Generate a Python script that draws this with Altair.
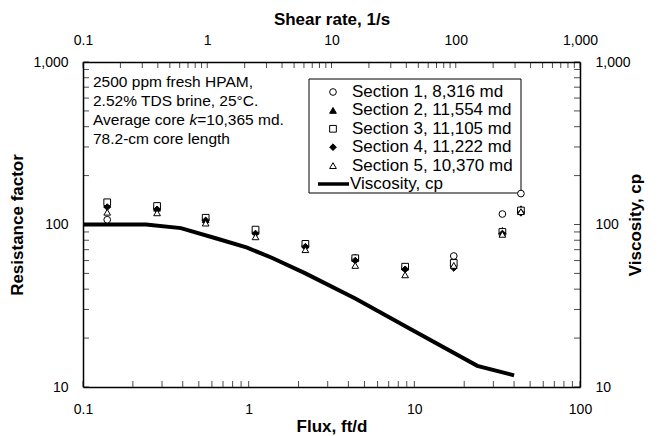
import altair as alt
import pandas as pd

# ---------------- data ----------------
flux = [0.14, 0.28, 0.55, 1.1, 2.2, 4.4, 8.8, 17.3, 34, 44]
sections = [
    "Section 1, 8,316 md",
    "Section 2, 11,554 md",
    "Section 3, 11,105 md",
    "Section 4, 11,222 md",
    "Section 5, 10,370 md",
]
sec1 = [107, 127, 108, 90, 74, 62, 54, 64, 116, 155]
sec2 = [133, 126, 107, 91, 75, 63, 55, 57, 92, 125]
sec3 = [137, 130, 110, 93, 76, 62, 55, 58, 90, 122]
sec4 = [128, 124, 106, 88, 73, 60, 53, 54, 88, 118]
sec5 = [119, 118, 102, 84, 70, 56, 49, 56, 87, 120]

visc_flux = [0.1, 0.24, 0.39, 0.64, 0.98, 1.4, 2.2, 4.4, 9.0, 24, 40]
visc_cp = [100, 100, 95, 82, 72, 62, 50, 35, 23.4, 13.5, 11.8]

flux_labels = [0.1, 1, 10, 100]
rf_labels = [10, 100, 1000]
shear_labels = [0.1, 1, 10, 100, 1000]

note_lines = ["2500 ppm fresh HPAM,", "2.52% TDS brine, 25°C."]
note_k = ["Average core", "k", "=10,365 md."]
note_last = "78.2-cm core length"

# ---------------- helpers ----------------
def log_ticks(lo, hi):
    out = []
    for e in range(lo, hi):
        for m in range(1, 10):
            out.append(round(m * 10 ** e, 6))
    out.append(10 ** hi)
    return out

W, H = 497, 325
FONT = "Liberation Sans"
NOTE_FS = 15.5
LEG_FS = 17

shapes = ["circle", "triangle-up", "square", "diamond", "triangle-up"]
fills = ["white", "black", "white", "black", "white"]

rows = []
for name, vals in zip(sections, [sec1, sec2, sec3, sec4, sec5]):
    for f, v in zip(flux, vals):
        rows.append({"flux": f, "rf": v, "section": name})
df_pts = pd.DataFrame(rows)
df_visc = pd.DataFrame({"flux": visc_flux, "visc": visc_cp})
df_leg = pd.DataFrame({"section": sections, "i": list(range(len(sections)))})

xscale = alt.Scale(type="log", domain=[0.1, 100], nice=False)
yscale = alt.Scale(type="log", domain=[10, 1000], nice=False)
shscale = alt.Scale(type="log", domain=[0.1, 1000], nice=False)
shape_scale = alt.Scale(domain=sections, range=shapes)
fill_scale = alt.Scale(domain=sections, range=fills)

common_axis = dict(ticks=False, grid=False, format=",", labelFlush=False,
                   labelOverlap=False, domainColor="black", domainWidth=1.5,
                   labelFont=FONT, labelFontSize=14, labelColor="black",
                   titleFont=FONT, titleFontSize=17, titleFontWeight="bold",
                   titleColor="black", labelPadding=15)

# ---------------- layers ----------------
legend_box = alt.Chart(pd.DataFrame({"a": [0]})).mark_rect(
    fill="white", stroke="black", strokeWidth=1
).encode(x=alt.value(226), x2=alt.value(438), y=alt.value(17), y2=alt.value(131))

legend_sym = alt.Chart(df_leg).transform_calculate(
    ly="30 + datum.i * 18.4"
).mark_point(size=45, stroke="black", strokeWidth=1, opacity=1, filled=True).encode(
    x=alt.value(250),
    y=alt.Y("ly:Q", scale=None),
    shape=alt.Shape("section:N", scale=shape_scale, legend=None),
    fill=alt.Fill("section:N", scale=fill_scale, legend=None),
)

legend_txt = alt.Chart(df_leg).transform_calculate(
    ly="30 + datum.i * 18.4"
).mark_text(align="left", baseline="middle", font=FONT, fontSize=LEG_FS, color="black").encode(
    x=alt.value(269), y=alt.Y("ly:Q", scale=None), text="section:N"
)

legend_line = alt.Chart(pd.DataFrame({"a": [0]})).mark_rule(
    color="black", strokeWidth=3.5
).encode(x=alt.value(235), x2=alt.value(266), y=alt.value(122))

legend_line_txt = alt.Chart(pd.DataFrame({"t": ["Viscosity, cp"]})).mark_text(
    align="left", baseline="middle", font=FONT, fontSize=LEG_FS, color="black"
).encode(x=alt.value(267), y=alt.value(122), text="t:N")

def note(text, x, y, italic=False):
    return alt.Chart(pd.DataFrame({"t": [text]})).mark_text(
        align="left", baseline="middle", font=FONT, fontSize=NOTE_FS, color="black",
        fontStyle="italic" if italic else "normal"
    ).encode(x=alt.value(x), y=alt.value(y), text="t:N")

# widths from Arial/Liberation Sans metrics (em units)
avg_w = 6.225 * NOTE_FS   # "Average core " incl. trailing space
k_w = 0.5 * NOTE_FS       # italic "k"

notes = [
    note(note_lines[0], 10, 20),
    note(note_lines[1], 10, 39),
    note(note_k[0], 10, 58),
    note(note_k[1], 10 + avg_w, 58, italic=True),
    note(note_k[2], 10 + avg_w + k_w, 58),
    note(note_last, 10, 77),
]

# inward ticks
tick_len = 6
df_ft = pd.DataFrame({"v": log_ticks(-1, 2)})
df_yt = pd.DataFrame({"v": log_ticks(1, 3)})
df_st = pd.DataFrame({"v": log_ticks(-1, 3)})

bottom_ticks = alt.Chart(df_ft).mark_tick(color="black", size=tick_len, thickness=1).encode(
    x=alt.X("v:Q", scale=xscale,
            axis=alt.Axis(orient="bottom", values=flux_labels, title="Flux, ft/d",
                          titlePadding=2, **common_axis)),
    y=alt.value(H - tick_len / 2),
)
top_ticks = alt.Chart(df_st).mark_tick(color="black", size=tick_len, thickness=1).encode(
    x=alt.X("v:Q", scale=shscale,
            axis=alt.Axis(orient="top", values=shear_labels, title="Shear rate, 1/s",
                          titlePadding=5, **common_axis)),
    y=alt.value(tick_len / 2),
)
left_ticks = alt.Chart(df_yt).mark_tick(color="black", size=tick_len, thickness=1).encode(
    y=alt.Y("v:Q", scale=yscale,
            axis=alt.Axis(orient="left", values=rf_labels, title="Resistance factor",
                          titlePadding=6, **common_axis)),
    x=alt.value(tick_len / 2),
)
right_ticks = alt.Chart(df_yt).mark_tick(color="black", size=tick_len, thickness=1).encode(
    y=alt.Y("v:Q", scale=yscale,
            axis=alt.Axis(orient="right", values=rf_labels, title="Viscosity, cp",
                          titleAngle=270, titlePadding=14, **common_axis)),
    x=alt.value(W - tick_len / 2),
)

visc_line = alt.Chart(df_visc).mark_line(color="black", strokeWidth=4).encode(
    x=alt.X("flux:Q", scale=xscale, axis=None),
    y=alt.Y("visc:Q", scale=yscale, axis=None),
)

points = alt.Chart(df_pts).mark_point(
    size=45, stroke="black", strokeWidth=1, opacity=1, filled=True
).encode(
    x=alt.X("flux:Q", scale=xscale, axis=None),
    y=alt.Y("rf:Q", scale=yscale, axis=None),
    shape=alt.Shape("section:N", scale=shape_scale, legend=None),
    fill=alt.Fill("section:N", scale=fill_scale, legend=None),
)

chart = alt.layer(
    bottom_ticks, top_ticks, left_ticks, right_ticks,
    legend_box, legend_sym, legend_txt, legend_line, legend_line_txt,
    *notes, visc_line, points
).resolve_scale(x="independent", y="independent").properties(
    width=W, height=H,
    autosize=alt.AutoSizeParams(type="none"),
    padding={"left": 83, "top": 62, "right": 79, "bottom": 49},
    background="white",
).configure_view(stroke=None)

chart.save("out.html", embed_options={"renderer": "svg", "actions": False})
